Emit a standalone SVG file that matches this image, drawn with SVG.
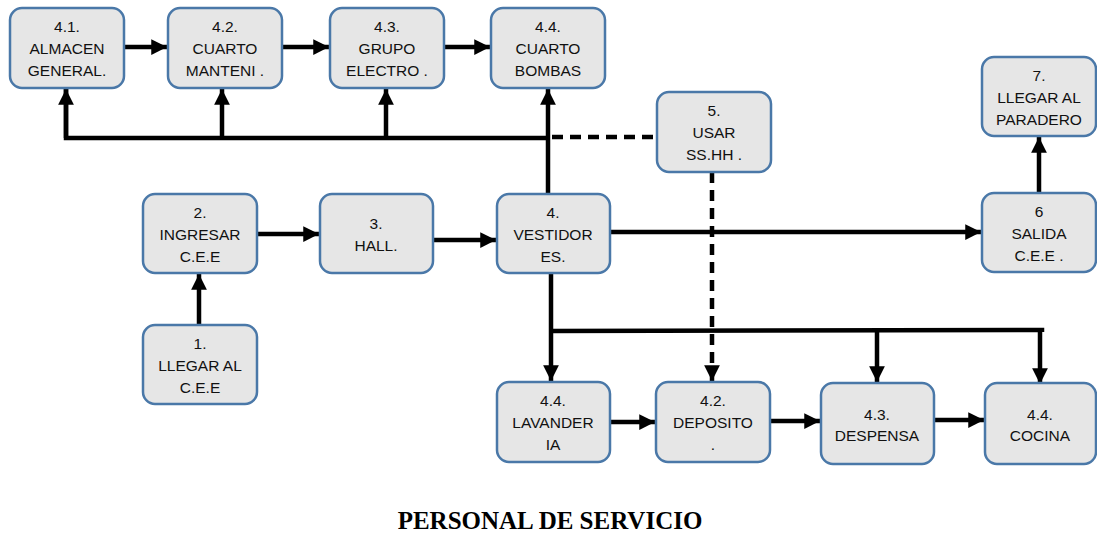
<svg xmlns="http://www.w3.org/2000/svg" width="1097" height="539" viewBox="0 0 1097 539">
<style>
.box{fill:#e6e6e6;stroke:#4a78a8;stroke-width:2.5}
.t{font-family:"Liberation Sans",Arial,sans-serif;font-size:15.5px;fill:#111;text-anchor:middle}
.ln{stroke:#000;stroke-width:4.5;fill:none}
.dash{stroke:#000;stroke-width:4.5;fill:none;stroke-dasharray:11 7}
.title{font-family:"Liberation Serif","Times New Roman",serif;font-weight:bold;font-size:25px;text-anchor:middle;fill:#000}
</style>
<defs>
<marker id="ah" viewBox="0 0 10 10" refX="10" refY="5" markerWidth="3.5" markerHeight="3.5" orient="auto" markerUnits="strokeWidth">
<path d="M0,0 L10,5 L0,10 z" fill="#000"/>
</marker>
</defs>
<rect width="1097" height="539" fill="#fff"/>
<g id="connectors">
<line class="ln" x1="124" y1="47" x2="167" y2="47" marker-end="url(#ah)"/>
<line class="ln" x1="282" y1="47" x2="329" y2="47" marker-end="url(#ah)"/>
<line class="ln" x1="444" y1="47" x2="490" y2="47" marker-end="url(#ah)"/>
<polyline class="ln" points="66,89 66,138 548,138"/>
<line class="ln" x1="66" y1="138" x2="66" y2="89" marker-end="url(#ah)"/>
<line class="ln" x1="222" y1="138" x2="222" y2="89" marker-end="url(#ah)"/>
<line class="ln" x1="386" y1="138" x2="386" y2="89" marker-end="url(#ah)"/>
<line class="ln" x1="548" y1="194" x2="548" y2="89" marker-end="url(#ah)"/>
<line class="dash" x1="552" y1="137" x2="657" y2="137"/>
<line class="dash" x1="712" y1="172" x2="712" y2="381" marker-end="url(#ah)"/>
<line class="ln" x1="199" y1="325" x2="199" y2="274" marker-end="url(#ah)"/>
<line class="ln" x1="257" y1="234" x2="319" y2="234" marker-end="url(#ah)"/>
<line class="ln" x1="433" y1="240" x2="496" y2="240" marker-end="url(#ah)"/>
<line class="ln" x1="610" y1="232" x2="981" y2="232" marker-end="url(#ah)"/>
<line class="ln" x1="1039" y1="193" x2="1039" y2="137" marker-end="url(#ah)"/>
<line class="ln" x1="551" y1="273" x2="551" y2="381" marker-end="url(#ah)"/>
<polyline class="ln" points="551,331 1042,330 1042,332"/>
<line class="ln" x1="877" y1="331" x2="877" y2="382" marker-end="url(#ah)"/>
<line class="ln" x1="1040" y1="331" x2="1040" y2="384" marker-end="url(#ah)"/>
<line class="ln" x1="610" y1="422" x2="655" y2="422" marker-end="url(#ah)"/>
<line class="ln" x1="770" y1="421" x2="820" y2="421" marker-end="url(#ah)"/>
<line class="ln" x1="934" y1="420" x2="984" y2="420" marker-end="url(#ah)"/>
</g>
<g id="n41"><rect class="box" x="10" y="8" width="114" height="80" rx="12"/><text class="t" x="67" y="32">4.1.</text><text class="t" x="67" y="54">ALMACEN</text><text class="t" x="67" y="76">GENERAL.</text></g>
<g id="n42"><rect class="box" x="168" y="8" width="114" height="80" rx="12"/><text class="t" x="225" y="32">4.2.</text><text class="t" x="225" y="54">CUARTO</text><text class="t" x="225" y="76">MANTENI .</text></g>
<g id="n43"><rect class="box" x="330" y="8" width="114" height="80" rx="12"/><text class="t" x="387" y="32">4.3.</text><text class="t" x="387" y="54">GRUPO</text><text class="t" x="387" y="76">ELECTRO .</text></g>
<g id="n44"><rect class="box" x="491" y="8" width="114" height="80" rx="12"/><text class="t" x="548" y="32">4.4.</text><text class="t" x="548" y="54">CUARTO</text><text class="t" x="548" y="76">BOMBAS</text></g>
<g id="n5"><rect class="box" x="657" y="92" width="114" height="80" rx="12"/><text class="t" x="714" y="116">5.</text><text class="t" x="714" y="138">USAR</text><text class="t" x="714" y="160">SS.HH .</text></g>
<g id="n7"><rect class="box" x="982" y="57" width="114" height="79" rx="12"/><text class="t" x="1039" y="81">7.</text><text class="t" x="1039" y="103">LLEGAR AL</text><text class="t" x="1039" y="125">PARADERO</text></g>
<g id="n6"><rect class="box" x="982" y="193" width="114" height="79" rx="12"/><text class="t" x="1039" y="217">6</text><text class="t" x="1039" y="239">SALIDA</text><text class="t" x="1039" y="261">C.E.E .</text></g>
<g id="n2"><rect class="box" x="143" y="194" width="114" height="79" rx="12"/><text class="t" x="200" y="218">2.</text><text class="t" x="200" y="240">INGRESAR</text><text class="t" x="200" y="262">C.E.E</text></g>
<g id="n3"><rect class="box" x="320" y="194" width="113" height="79" rx="12"/><text class="t" x="376" y="229">3.</text><text class="t" x="376" y="251">HALL.</text></g>
<g id="n4"><rect class="box" x="497" y="194" width="113" height="79" rx="12"/><text class="t" x="553" y="218">4.</text><text class="t" x="553" y="240">VESTIDOR</text><text class="t" x="553" y="262">ES.</text></g>
<g id="n1"><rect class="box" x="143" y="325" width="114" height="79" rx="12"/><text class="t" x="200" y="349">1.</text><text class="t" x="200" y="371">LLEGAR AL</text><text class="t" x="200" y="393">C.E.E</text></g>
<g id="n44l"><rect class="box" x="497" y="382" width="113" height="80" rx="12"/><text class="t" x="553" y="406">4.4.</text><text class="t" x="553" y="428">LAVANDER</text><text class="t" x="553" y="450">IA</text></g>
<g id="n42d"><rect class="box" x="656" y="382" width="114" height="80" rx="12"/><text class="t" x="713" y="406">4.2.</text><text class="t" x="713" y="428">DEPOSITO</text><text class="t" x="713" y="450">.</text></g>
<g id="n43d"><rect class="box" x="821" y="383" width="113" height="81" rx="12"/><text class="t" x="877" y="420">4.3.</text><text class="t" x="877" y="441">DESPENSA</text></g>
<g id="n44c"><rect class="box" x="985" y="383" width="111" height="81" rx="12"/><text class="t" x="1040" y="420">4.4.</text><text class="t" x="1040" y="441">COCINA</text></g>
<text class="title" x="550" y="529">PERSONAL DE SERVICIO</text>
</svg>
